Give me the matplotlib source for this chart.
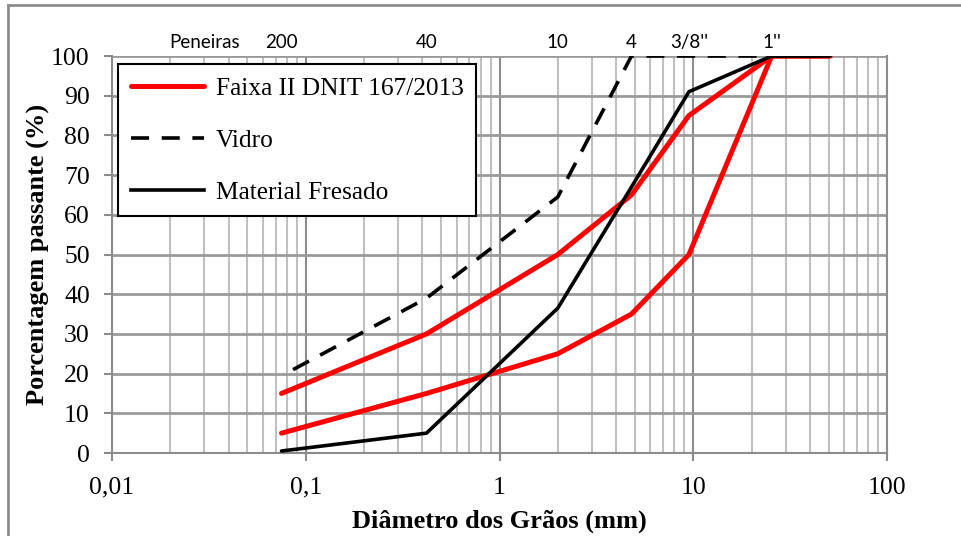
import matplotlib
matplotlib.use("Agg")
import matplotlib.pyplot as plt
from matplotlib.ticker import FixedLocator, LogLocator, NullFormatter
from matplotlib.lines import Line2D

# sieve sizes (mm)
sieve_mm = [0.075, 0.42, 2.0, 4.8, 9.5, 25.4, 50.8]
sieve_names = ["200", "40", "10", "4", "3/8''", "1''"]
sieve_name_mm = [0.075, 0.42, 2.0, 4.8, 9.5, 25.4]

faixa_upper = [15, 30, 50, 65, 85, 100, 100]
faixa_lower = [5, 15, 25, 35, 50, 100, 100]

vidro_mm = [0.086, 0.42, 2.0, 4.8, 9.5, 25.4, 50.8]
vidro = [21, 39, 64.5, 100, 100, 100, 100]

fresado_mm = [0.075, 0.42, 2.0, 4.8, 9.5, 25.4, 50.8]
fresado = [0.5, 5, 36.5, 67, 91, 100, 100]

y_ticks = list(range(0, 101, 10))
x_ticks = [0.01, 0.1, 1, 10, 100]
x_ticklabels = ["0,01", "0,1", "1", "10", "100"]

W, H = 961, 536
fig = plt.figure(figsize=(W / 100, H / 100), dpi=100)
ax = fig.add_axes([112 / W, (H - 453) / H, (887 - 112) / W, (453 - 56) / H])

serif = "Liberation Serif"

ax.set_xscale("log")
ax.set_xlim(0.01, 100)
ax.set_ylim(0, 100)

# grid
ax.xaxis.set_major_locator(FixedLocator(x_ticks))
ax.xaxis.set_minor_locator(LogLocator(base=10, subs=range(2, 10)))
ax.xaxis.set_minor_formatter(NullFormatter())
ax.set_xticklabels(x_ticklabels)
ax.set_yticks(y_ticks)
ax.grid(True, which="major", axis="x", color="#8c8c8c", lw=1.5)
ax.grid(True, which="minor", axis="x", color="#c0c0c0", lw=1.5)
ax.grid(True, which="major", axis="y", color="#9a9a9a", lw=2)
ax.set_axisbelow(True)

for s in ax.spines.values():
    s.set_color("#8c8c8c")
    s.set_linewidth(1.5)
ax.spines["top"].set_visible(False)

ax.tick_params(axis="both", which="major", direction="out", length=6, width=1.5,
               color="#8c8c8c", labelsize=18.5)
ax.tick_params(axis="x", which="minor", length=0)
ax.tick_params(axis="x", pad=11)
ax.tick_params(axis="y", pad=10)
for lab in ax.get_xticklabels() + ax.get_yticklabels():
    lab.set_fontfamily(serif)

ax.plot(sieve_mm, faixa_upper, color="#ff0000", lw=3.6, solid_capstyle="round", zorder=3)
ax.plot(sieve_mm, faixa_lower, color="#ff0000", lw=3.6, solid_capstyle="round", zorder=3)
ax.plot(vidro_mm, vidro, color="black", lw=2.6, ls=(0, (5, 3.5)), zorder=4)
ax.plot(fresado_mm, fresado, color="black", lw=2.6, solid_capstyle="round", zorder=4)

ax.set_xlabel("Diâmetro dos Grãos (mm)", fontfamily=serif, fontweight="bold", fontsize=19, labelpad=8)
ax.set_ylabel("Porcentagem passante (%)", fontfamily=serif, fontweight="bold", fontsize=19, labelpad=1)

# sieve labels on top
ax.text(0.030, 101.2, "Peneiras", fontfamily="Lato", fontsize=13.5, ha="center", va="bottom")
for mm, name in zip(sieve_name_mm, sieve_names):
    ax.text(mm, 101.2, name, fontfamily="Lato", fontsize=13.5, ha="center", va="bottom")

handles = [
    Line2D([], [], color="#ff0000", lw=3.6, solid_capstyle="round"),
    Line2D([], [], color="black", lw=2.6, ls=(0, (5, 3.5))),
    Line2D([], [], color="black", lw=2.6),
]
labels = ["Faixa II DNIT 167/2013", "Vidro", "Material Fresado"]
leg = ax.legend(handles, labels, loc="upper left", bbox_to_anchor=(6 / 775, 1 - 8 / 397),
                prop={"family": serif, "size": 18.3}, frameon=True, fancybox=False,
                edgecolor="black", framealpha=1, borderpad=0.5, labelspacing=1.15,
                handlelength=2.9, handletextpad=0.45, borderaxespad=0)
leg.get_frame().set_linewidth(1.5)

# outer border
fig.add_artist(Line2D([8 / W, 8 / W], [0, 1 - 5 / H], color="#8c8c8c", lw=2, transform=fig.transFigure))
fig.add_artist(Line2D([8 / W, 1], [1 - 5 / H, 1 - 5 / H], color="#8c8c8c", lw=2, transform=fig.transFigure))

fig.savefig("out.png", dpi=100)
